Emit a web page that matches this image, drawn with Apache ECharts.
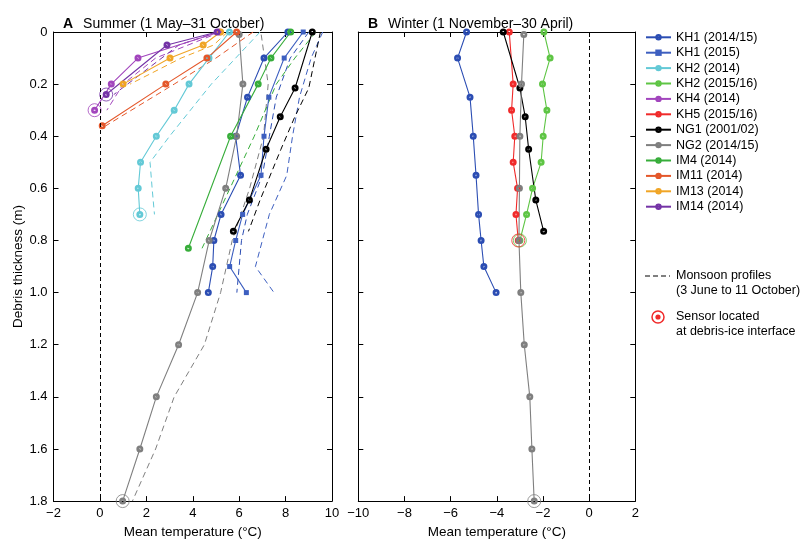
<!DOCTYPE html>
<html>
<head>
<meta charset="utf-8">
<title>Debris temperature profiles</title>
<script src="https://cdn.jsdelivr.net/npm/echarts/dist/echarts.min.js"></script>
<style>
  html, body { margin: 0; padding: 0; background: #fff; }
  #chart { width: 801px; height: 544px; }
</style>
</head>
<body>
<div id="chart"></div>
<script>
// ---- Sensor depths (m) and mean temperatures (°C) ----
const depthKH1a = [0, 0.1, 0.25, 0.4, 0.55, 0.7, 0.8, 0.9, 1.0];
const kh1aSummer = [8.1, 7.07, 6.36, 5.85, 6.06, 5.22, 4.91, 4.86, 4.67];
const kh1aMonsoon = [9.0, 8.2, 7.6, 7.3, 7.0, 6.35, 6.1, 6.0, 5.9];
const kh1aWinter = [-5.31, -5.7, -5.16, -5.02, -4.9, -4.79, -4.68, -4.56, -4.03];

const depthKH1b = [0, 0.1, 0.25, 0.4, 0.55, 0.7, 0.8, 0.9, 1.0];
const kh1bSummer = [8.76, 7.94, 7.28, 7.07, 6.94, 6.15, 5.85, 5.59, 6.31];
const kh1bMonsoon = [9.6, 9.1, 8.6, 8.3, 8.05, 7.3, 7.0, 6.7, 7.5];

const depthKH2a = [0, 0.1, 0.2, 0.3, 0.4, 0.5, 0.6, 0.7];
const kh2aSummer = [5.58, 4.7, 3.84, 3.2, 2.43, 1.75, 1.65, 1.72];
const kh2aMonsoon = [6.9, 5.85, 4.8, 3.9, 3.0, 2.16, 2.25, 2.35];

const depthKH2b = [0, 0.1, 0.2, 0.3, 0.4, 0.5, 0.6, 0.7, 0.8];
const kh2bWinter = [-1.96, -1.69, -2.02, -1.83, -1.99, -2.08, -2.45, -2.71, -3.0];

const depthKH4 = [0, 0.1, 0.2, 0.3];
const kh4Summer = [5.15, 1.64, 0.49, -0.23];
const kh4Monsoon = [5.2, 2.4, 1.0, 0.3];

const depthKH5 = [0, 0.2, 0.3, 0.4, 0.5, 0.6, 0.7, 0.8];
const kh5Winter = [-3.46, -3.29, -3.36, -3.22, -3.29, -3.1, -3.17, -3.07];

const depthNG1 = [0, 0.215, 0.325, 0.45, 0.645, 0.765];
const ng1Summer = [9.15, 8.41, 7.77, 7.16, 6.44, 5.75];
const ng1Monsoon = [9.5, 9.0, 8.4, 7.8, 6.9, 6.4];
const ng1Winter = [-3.72, -3.0, -2.77, -2.62, -2.31, -1.97];

const depthNG2 = [0.01, 0.2, 0.4, 0.6, 0.8, 1.0, 1.2, 1.4, 1.6, 1.8];
const ng2Summer = [6.0, 6.16, 5.89, 5.42, 4.71, 4.21, 3.39, 2.43, 1.72, 0.98];
const ng2Monsoon = [6.95, 7.25, 7.05, 6.45, 5.7, 5.2, 4.5, 3.2, 2.4, 1.4];
const ng2Winter = [-2.83, -2.93, -3.0, -3.02, -3.04, -2.96, -2.81, -2.57, -2.48, -2.38];

const depthIM4 = [0, 0.1, 0.2, 0.4, 0.83];
const im4Summer = [8.22, 7.37, 6.82, 5.63, 3.81];
const im4Monsoon = [9.3, 8.4, 7.6, 6.65, 4.4];

const depthIM11 = [0, 0.1, 0.2, 0.36];
const im11Summer = [5.89, 4.61, 2.84, 0.1];
const im11Monsoon = [6.6, 5.0, 3.2, 0.25];

const depthIM13 = [0, 0.05, 0.1, 0.2];
const im13Summer = [5.2, 4.45, 3.02, 1.0];
const im13Monsoon = [5.5, 4.9, 3.5, 1.3];

const depthIM14 = [0, 0.05, 0.24];
const im14Summer = [5.05, 2.89, 0.27];
const im14Monsoon = [5.1, 3.4, 0.6];

// Axis ticks
const summerTicks = { min: -2, max: 10, interval: 2 };
const winterTicks = { min: -10, max: 2, interval: 2 };
const depthTicks = { min: 0, max: 1.8, interval: 0.2 };

// Dot marker: filled disc with a small pale centre
const DOT = 'path://M0,-10A10,10,0,1,1,0,10A10,10,0,1,1,0,-10ZM0,-2.6A2.6,2.6,0,1,0,0,2.6A2.6,2.6,0,1,0,0,-2.6Z';

// ---- Profile descriptions (data + drawing style) ----
const profiles = [
  { name: 'KH1 (2014/15)', color: '#2b4db3', symbol: DOT, depth: depthKH1a, summer: kh1aSummer, monsoon: kh1aMonsoon, winter: kh1aWinter },
  { name: 'KH1 (2015)', color: '#3d5fc0', symbol: 'rect', depth: depthKH1b, summer: kh1bSummer, monsoon: kh1bMonsoon },
  { name: 'KH2 (2014)', color: '#63c9d6', symbol: DOT, depth: depthKH2a, summer: kh2aSummer, monsoon: kh2aMonsoon, summerInterface: true },
  { name: 'KH2 (2015/16)', color: '#5ec544', symbol: DOT, depth: depthKH2b, winter: kh2bWinter, winterInterface: true },
  { name: 'KH4 (2014)', color: '#a245bd', symbol: DOT, depth: depthKH4, summer: kh4Summer, monsoon: kh4Monsoon, summerInterface: true },
  { name: 'KH5 (2015/16)', color: '#f02a2a', symbol: DOT, depth: depthKH5, winter: kh5Winter, winterInterface: true },
  { name: 'NG1 (2001/02)', color: '#000000', symbol: DOT, depth: depthNG1, summer: ng1Summer, monsoon: ng1Monsoon, winter: ng1Winter },
  { name: 'NG2 (2014/15)', color: '#7f7f7f', symbol: DOT, depth: depthNG2, summer: ng2Summer, monsoon: ng2Monsoon, winter: ng2Winter, summerInterface: true, winterInterface: true },
  { name: 'IM4 (2014)', color: '#37ad3a', symbol: DOT, depth: depthIM4, summer: im4Summer, monsoon: im4Monsoon },
  { name: 'IM11 (2014)', color: '#e4572a', symbol: DOT, depth: depthIM11, summer: im11Summer, monsoon: im11Monsoon },
  { name: 'IM13 (2014)', color: '#f0a526', symbol: DOT, depth: depthIM13, summer: im13Summer, monsoon: im13Monsoon },
  { name: 'IM14 (2014)', color: '#7433a6', symbol: DOT, depth: depthIM14, summer: im14Summer, monsoon: im14Monsoon, summerInterface: true }
];

const FONT = '"Liberation Sans", Arial, Helvetica, sans-serif';
const zip = (temps, depths) => temps.map((t, i) => [t, depths[i]]);
const minus = v => (v < 0 ? '\u2212' + Math.abs(v) : String(v));
const depthLabel = v => (Math.abs(v) < 1e-9 ? '0' : v.toFixed(1));

function xAxisPair(grid, ticks) {
  const common = {
    type: 'value', gridIndex: grid, min: ticks.min, max: ticks.max, interval: ticks.interval,
    axisLine: { show: true, onZero: false, lineStyle: { color: '#000', width: 1 } },
    axisTick: { show: true, inside: true, length: 5, lineStyle: { color: '#000' } },
    splitLine: { show: false }
  };
  return [
    Object.assign({}, common, {
      position: 'bottom',
      axisLabel: { color: '#000', fontSize: 13, fontFamily: FONT, margin: 6, formatter: minus },
      name: 'Mean temperature (\u00B0C)', nameLocation: 'middle', nameGap: 17,
      nameTextStyle: { color: '#000', fontSize: 13.5, fontFamily: FONT }
    }),
    Object.assign({}, common, { position: 'top', axisLabel: { show: false } })
  ];
}

function yAxisPair(grid, withLabels) {
  const common = {
    type: 'value', gridIndex: grid, inverse: true,
    min: depthTicks.min, max: depthTicks.max, interval: depthTicks.interval,
    axisLine: { show: true, onZero: false, lineStyle: { color: '#000', width: 1 } },
    axisTick: { show: true, inside: true, length: 5, lineStyle: { color: '#000' } },
    splitLine: { show: false }
  };
  const left = Object.assign({}, common, {
    position: 'left',
    axisLabel: withLabels
      ? { color: '#000', fontSize: 13, fontFamily: FONT, margin: 6, formatter: depthLabel }
      : { show: false }
  });
  if (withLabels) {
    Object.assign(left, {
      name: 'Debris thickness (m)', nameLocation: 'middle', nameGap: 28,
      nameTextStyle: { color: '#000', fontSize: 13.5, fontFamily: FONT }
    });
  }
  return [left, Object.assign({}, common, { position: 'right', axisLabel: { show: false } })];
}

const series = [];

// zero-temperature reference lines
[0, 2].forEach(ax => {
  series.push({
    type: 'line', xAxisIndex: ax, yAxisIndex: ax, data: [], silent: true,
    markLine: {
      silent: true, symbol: 'none', label: { show: false },
      lineStyle: { color: '#000', width: 1, type: [4, 3] },
      data: [{ xAxis: 0 }]
    }
  });
});

// monsoon profiles (dashed, summer panel)
profiles.forEach(p => {
  if (!p.monsoon) return;
  series.push({
    type: 'line', name: p.name + ' monsoon', xAxisIndex: 0, yAxisIndex: 0,
    data: zip(p.monsoon, p.depth), symbol: 'none', silent: true,
    lineStyle: { color: p.color, width: 1, type: [6, 4] }, z: 2
  });
});

// seasonal mean profiles
profiles.forEach(p => {
  const isRect = p.symbol === 'rect';
  const style = {
    type: 'line', name: p.name, symbol: p.symbol,
    symbolSize: isRect ? 5 : 7,
    lineStyle: { color: p.color, width: 1.1 },
    itemStyle: { color: p.color, borderWidth: 0 },
    silent: true, z: 3
  };
  if (p.summer) series.push(Object.assign({}, style, { xAxisIndex: 0, yAxisIndex: 0, data: zip(p.summer, p.depth) }));
  if (p.winter) series.push(Object.assign({}, style, { xAxisIndex: 2, yAxisIndex: 2, data: zip(p.winter, p.depth) }));
});

// sensors at the debris-ice interface (open ring on the deepest point)
profiles.forEach(p => {
  const ring = {
    type: 'scatter', symbol: 'circle', symbolSize: 13, silent: true, z: 4,
    itemStyle: { color: 'rgba(0,0,0,0)', borderColor: p.color, borderWidth: 1 }
  };
  const last = p.depth.length - 1;
  if (p.summerInterface) series.push(Object.assign({}, ring, { name: p.name + ' interface', xAxisIndex: 0, yAxisIndex: 0, data: [[p.summer[last], p.depth[last]]] }));
  if (p.winterInterface) series.push(Object.assign({}, ring, { name: p.name + ' interface', xAxisIndex: 2, yAxisIndex: 2, data: [[p.winter[last], p.depth[last]]] }));
});

const titleRich = {
  a: { fontWeight: 'bold', fontSize: 14, fontFamily: FONT, color: '#000' },
  b: { fontWeight: 'normal', fontSize: 14, fontFamily: FONT, color: '#000' }
};

const option = {
  animation: false,
  backgroundColor: '#fff',
  textStyle: { fontFamily: FONT },
  title: [
    {
      left: 58, top: 10,
      text: '{a|A}  {b|Summer (1 May\u201331 October)}',
      textStyle: { fontWeight: 'normal', rich: titleRich }
    },
    {
      left: 363, top: 10,
      text: '{a|B}  {b|Winter (1 November\u201330 April)}',
      textStyle: { fontWeight: 'normal', rich: titleRich }
    }
  ],
  grid: [
    { left: 53.5, top: 32, width: 278.5, height: 475 },
    { left: 358.3, top: 32, width: 277, height: 475 }
  ],
  xAxis: [...xAxisPair(0, summerTicks), ...xAxisPair(1, winterTicks)],
  yAxis: [...yAxisPair(0, true), ...yAxisPair(1, false)],
  legend: {
    orient: 'vertical', left: 640, top: 24.6,
    itemWidth: 25, itemHeight: 8, itemGap: 0,
    selectedMode: false,
    data: profiles.map(p => p.name),
    textStyle: { color: '#000', fontSize: 12.5, fontFamily: FONT, lineHeight: 15.4 }
  },
  graphic: [
    { type: 'line', shape: { x1: 645, y1: 276, x2: 670, y2: 276 }, style: { stroke: '#000', lineWidth: 1, lineDash: [5, 3] } },
    { type: 'text', left: 676, top: 269, style: { text: 'Monsoon profiles', fill: '#000', font: '12.5px ' + FONT } },
    { type: 'text', left: 676, top: 284, style: { text: '(3 June to 11 October)', fill: '#000', font: '12.5px ' + FONT } },
    { type: 'circle', shape: { cx: 658, cy: 317, r: 6 }, style: { fill: 'none', stroke: '#f02a2a', lineWidth: 1.5 } },
    { type: 'circle', shape: { cx: 658, cy: 317, r: 2.6 }, style: { fill: '#f02a2a' } },
    { type: 'text', left: 676, top: 310, style: { text: 'Sensor located', fill: '#000', font: '12.5px ' + FONT } },
    { type: 'text', left: 676, top: 325, style: { text: 'at debris-ice interface', fill: '#000', font: '12.5px ' + FONT } }
  ],
  series: series
};

const chart = echarts.init(document.getElementById('chart'), null, { renderer: 'canvas' });
chart.setOption(option);
</script>
</body>
</html>
